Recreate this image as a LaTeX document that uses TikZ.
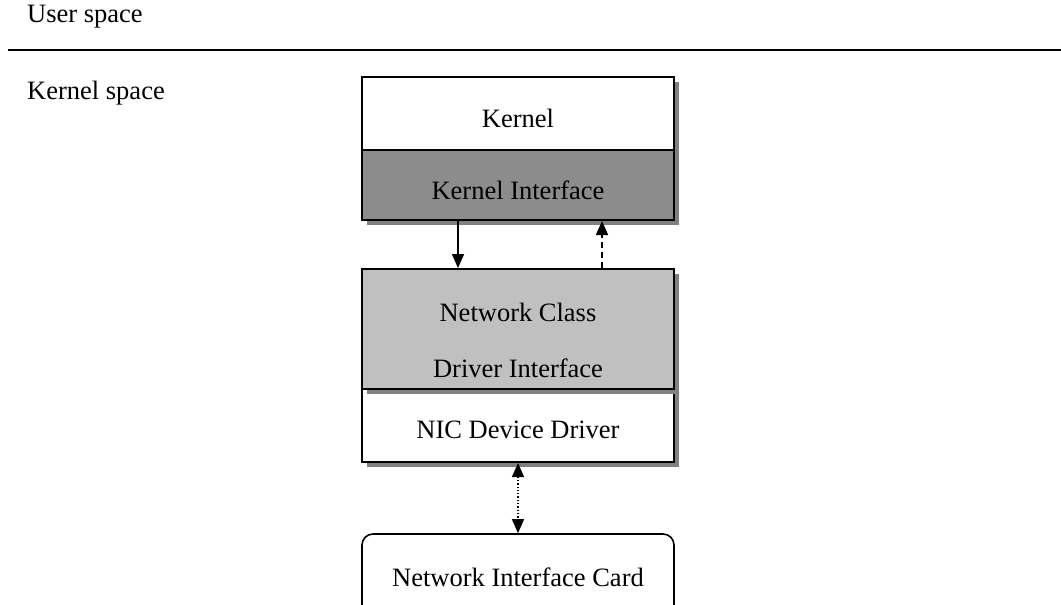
\documentclass[tikz,border=0pt]{standalone}
\usepackage{fontspec}
\setmainfont{Liberation Serif}
\usetikzlibrary{arrows.meta,shadows}
\definecolor{shadowgray}{RGB}{128,128,128}
\definecolor{darkfill}{RGB}{140,140,140}
\definecolor{lightfill}{RGB}{192,192,192}
\tikzset{
  txt/.style={font=\fontsize{26.5}{32}\selectfont, inner sep=0pt},
  layer/.style={draw=black, line width=2pt, minimum width=312pt, inner sep=0pt,
    drop shadow={shadow xshift=5pt, shadow yshift=-5pt, fill=shadowgray, opacity=1}},
  card/.style={draw=black, line width=1.6pt, rounded corners=11pt, minimum width=312pt,
    minimum height=86pt, inner sep=0pt, fill=white},
  tip/.style={-{Triangle[length=14pt,width=12pt]}},
  conn/.style={line width=1.5pt}
}
\begin{document}
\begin{tikzpicture}[x=1pt,y=-1pt]
  \useasboundingbox (0,0) rectangle (1061,605);
  \clip (0,0) rectangle (1061,605);
  \fill[white] (0,0) rectangle (1061,605);

  % user / kernel boundary
  \node[txt, anchor=west] (user) at (27,17) {User space};
  \draw[line width=2pt] (8,49.5) -- (1061,49.5);
  \node[txt, anchor=west] (kspace) at (27,93) {Kernel space};

  % kernel stack
  \node[layer, fill=white, minimum height=73pt] (kernel) at (518,113.5) {};
  \node[txt] (kerneltxt) at (518,118) {Kernel};
  \node[layer, fill=darkfill, minimum height=70pt] (ki) at (518,185) {};
  \node[txt] (kitxt) at (518,190) {Kernel Interface};

  % driver stack (device driver first, class interface on top of it)
  \node[layer, fill=white, minimum height=73pt] (ndd) at (518,425.5) {};
  \node[txt] (nddtxt) at (518,430) {NIC Device Driver};
  \node[layer, fill=lightfill, minimum height=120pt] (ncdi) at (518,329) {};
  \node[txt, align=center, font=\fontsize{26.5}{56}\selectfont] (ncditxt) at (518,340)
    {Network Class\\Driver Interface};

  % hardware
  \node[card] (nic) at (518,577) {};
  \node[txt] (nictxt) at (518,577) {Network Interface Card};

  % connectors
  \draw[conn, tip] ([xshift=-60pt]ki.south) -- ([xshift=-60pt]ncdi.north);
  \draw[conn, tip, dashed, dash pattern=on 6pt off 4pt] ([xshift=84pt]ncdi.north) -- ([xshift=84pt]ki.south);
  \draw[conn, line width=1.3pt, dotted, {Triangle[length=14pt,width=12pt]}-{Triangle[length=14pt,width=12pt]}]
    (ndd.south) -- (nic.north);
\end{tikzpicture}
\end{document}
